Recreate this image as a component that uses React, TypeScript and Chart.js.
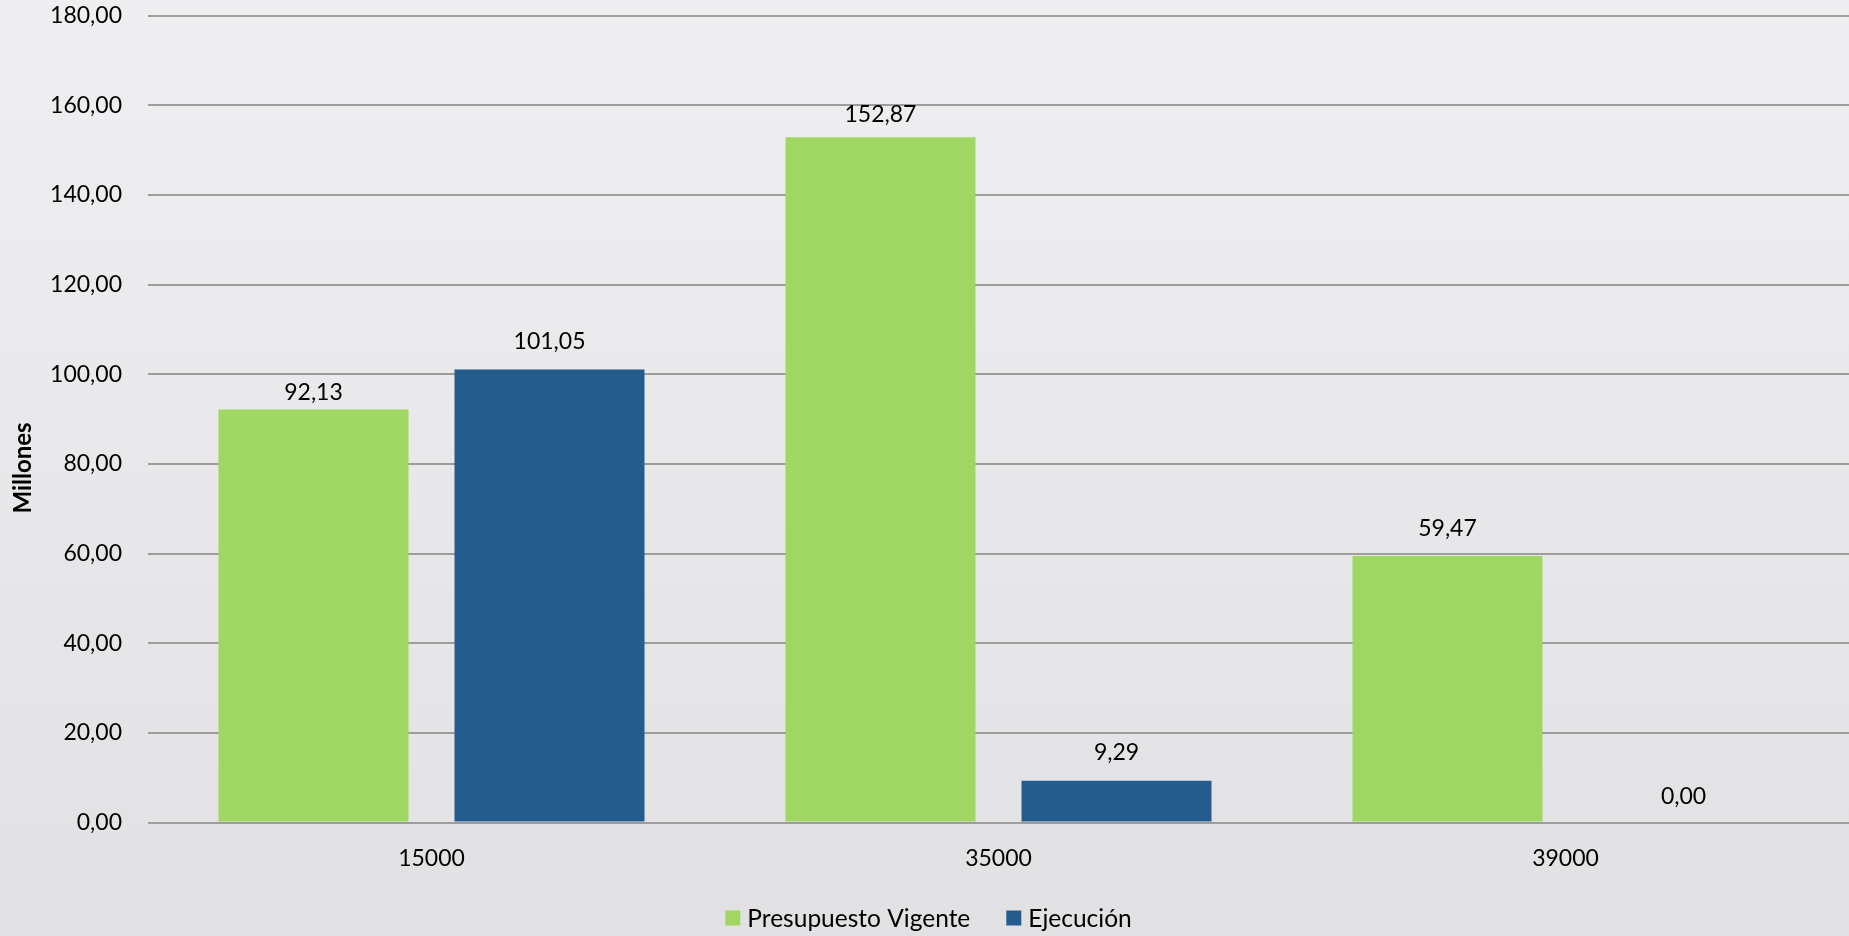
import React, { useEffect, useRef } from "react";
import { Chart, registerables } from "chart.js";

Chart.register(...registerables);

const categories = ["15000", "35000", "39000"];
const presupuestoVigente = [92.13, 152.87, 59.47];
const ejecucion = [101.05, 9.29, 0.0];
const seriesNames = ["Presupuesto Vigente", "Ejecución"];
const axisTitle = "Millones";
const yMin = 0;
const yMax = 180;
const yStep = 20;

const GREEN = "#A0D662";
const BLUE = "#255C8E";
const FONT = "Lato, 'Open Sans', sans-serif";

const fmt = (v: number) => v.toFixed(2).replace(".", ",");

const bgPlugin = {
  id: "bgPlugin",
  beforeDraw(chart: any) {
    const { ctx, width, height } = chart;
    ctx.save();
    const g = ctx.createLinearGradient(0, 0, 0, height);
    g.addColorStop(0, "#efeff1");
    g.addColorStop(1, "#e1e1e3");
    ctx.fillStyle = g;
    ctx.fillRect(0, 0, width, height);
    ctx.restore();
  },
};

const labelPlugin = {
  id: "valueLabels",
  afterDatasetsDraw(chart: any, _args: any, opts: any) {
    const { ctx } = chart;
    ctx.save();
    ctx.font = `23px ${FONT}`;
    ctx.fillStyle = "#000";
    ctx.textAlign = "center";
    ctx.textBaseline = "middle";
    chart.data.datasets.forEach((ds: any, di: number) => {
      const meta = chart.getDatasetMeta(di);
      meta.data.forEach((el: any, i: number) => {
        const off = (opts.offsets && opts.offsets[di] && opts.offsets[di][i]) || 28;
        ctx.fillText(fmt(ds.data[i]), el.x, el.y - off);
      });
    });
    ctx.restore();
  },
};

const yTitlePlugin = {
  id: "yTitle",
  afterDraw(chart: any) {
    const { ctx, height } = chart;
    ctx.save();
    ctx.translate(23, height / 2);
    ctx.rotate(-Math.PI / 2);
    ctx.font = `bold 24px ${FONT}`;
    ctx.fillStyle = "#000";
    ctx.textAlign = "center";
    ctx.textBaseline = "middle";
    ctx.fillText(axisTitle, 0, 0);
    ctx.restore();
  },
};

const legendPlugin = {
  id: "customLegend",
  afterDraw(chart: any) {
    const { ctx, width } = chart;
    const box = 15;
    const gap = 7;
    const itemGap = 36;
    const y = 919;
    ctx.save();
    ctx.font = `24.5px ${FONT}`;
    ctx.textBaseline = "middle";
    ctx.textAlign = "left";
    const items = chart.data.datasets.map((ds: any) => ({
      text: ds.label,
      color: ds.backgroundColor,
      w: ctx.measureText(ds.label).width,
    }));
    const total =
      items.reduce((s: number, it: any) => s + box + gap + it.w, 0) + itemGap * (items.length - 1);
    let x = width / 2 + 4 - total / 2;
    items.forEach((it: any) => {
      ctx.fillStyle = it.color;
      ctx.fillRect(x, y - box / 2 - 1, box, box);
      x += box + gap;
      ctx.fillStyle = "#000";
      ctx.fillText(it.text, x, y);
      x += it.w + itemGap;
    });
    ctx.restore();
  },
};

export default function App() {
  const ref = useRef<HTMLCanvasElement | null>(null);

  useEffect(() => {
    document.body.style.margin = "0";
    const chart = new Chart(ref.current as HTMLCanvasElement, {
      type: "bar",
      data: {
        labels: categories,
        datasets: [
          {
            label: seriesNames[0],
            data: presupuestoVigente,
            backgroundColor: GREEN,
            categoryPercentage: 0.8325,
            barPercentage: 0.805,
          },
          {
            label: seriesNames[1],
            data: ejecucion,
            backgroundColor: BLUE,
            categoryPercentage: 0.8325,
            barPercentage: 0.805,
          },
        ],
      },
      options: {
        animation: false,
        responsive: true,
        maintainAspectRatio: false,
        layout: { padding: { top: 0, right: 0, bottom: 63.5, left: 0 } },
        scales: {
          x: {
            grid: { display: false, drawTicks: false },
            border: { display: false },
            ticks: { color: "#000", font: { family: FONT, size: 23 }, padding: 22 },
            afterFit: (scale: any) => {
              scale.height = 50;
            },
          },
          y: {
            min: yMin,
            max: yMax,
            grid: { color: "#9d9d9d", lineWidth: 2, drawTicks: false },
            border: { display: false },
            ticks: {
              stepSize: yStep,
              color: "#000",
              font: { family: FONT, size: 23 },
              padding: 26,
              callback: (v: any) => fmt(Number(v)),
            },
            afterFit: (scale: any) => {
              scale.width = 148;
              scale.paddingTop = 15.7;
              scale.paddingBottom = 14;
            },
          },
        },
        plugins: {
          legend: { display: false },
          tooltip: { enabled: false },
          valueLabels: { offsets: [[16.5, 23, 27.7], [28, 28.7, 26]] },
        } as any,
      },
      plugins: [bgPlugin, labelPlugin, yTitlePlugin, legendPlugin],
    });
    return () => chart.destroy();
  }, []);

  return (
    <div style={{ position: "fixed", left: 0, top: 0, width: 1849, height: 936 }}>
      <canvas ref={ref} />
    </div>
  );
}
